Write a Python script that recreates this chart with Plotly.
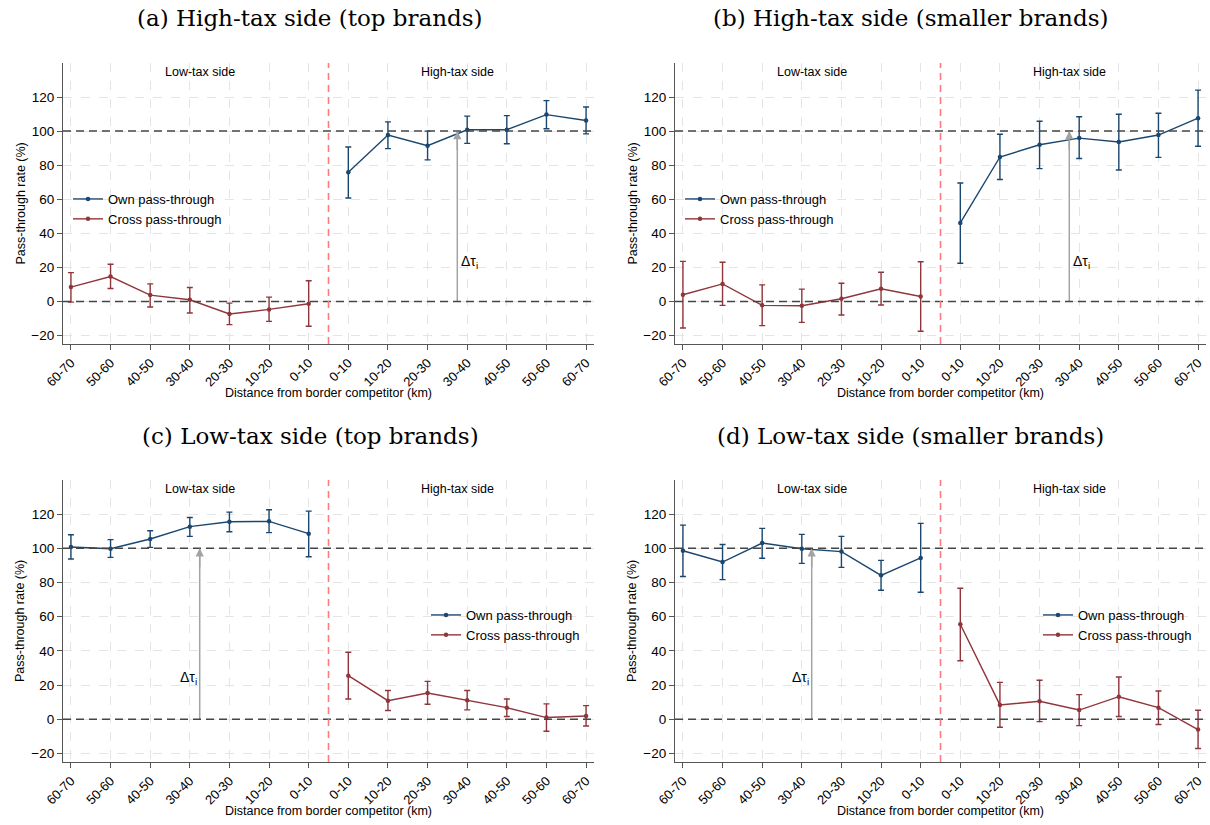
import plotly.graph_objects as go

categories = ["60-70", "50-60", "40-50", "30-40", "20-30", "10-20", "0-10",
              "0-10", "10-20", "20-30", "30-40", "40-50", "50-60", "60-70"]
positions = list(range(1, 15))
low_pos = positions[:7]
high_pos = positions[7:]

# Panel (a) High-tax side (top brands)
a_cross = [8.4, 14.6, 3.7, 1.0, -7.4, -4.7, -1.4]
a_cross_hi = [16.9, 21.8, 10.3, 8.2, -1.0, 2.5, 12.1]
a_cross_lo = [-0.4, 7.6, -3.3, -6.8, -13.6, -11.7, -14.6]
a_own = [75.9, 97.7, 91.4, 100.8, 100.8, 109.7, 106.2]
a_own_hi = [90.7, 105.4, 100.0, 108.8, 109.1, 117.9, 114.2]
a_own_lo = [60.7, 89.7, 83.1, 92.8, 92.6, 101.4, 98.4]

# Panel (b) High-tax side (smaller brands)
b_cross = [3.9, 10.3, -2.3, -2.5, 1.6, 7.4, 2.9]
b_cross_hi = [23.5, 23.0, 9.7, 7.2, 10.7, 17.1, 23.3]
b_cross_lo = [-15.6, -2.3, -14.2, -12.3, -8.0, -2.1, -17.5]
b_own = [46.1, 84.8, 92.0, 95.9, 93.6, 97.7, 107.6]
b_own_hi = [69.5, 98.2, 105.8, 108.4, 109.9, 110.5, 124.1]
b_own_lo = [22.4, 71.6, 78.0, 83.9, 77.2, 84.6, 91.1]

# Panel (c) Low-tax side (top brands)
c_own = [100.8, 99.8, 105.5, 112.7, 115.6, 115.8, 108.6]
c_own_hi = [108.0, 105.1, 110.3, 118.1, 121.2, 122.6, 121.8]
c_own_lo = [93.8, 94.7, 100.6, 107.0, 109.7, 109.2, 95.1]
c_cross = [25.5, 10.9, 15.4, 11.1, 6.8, 1.0, 1.9]
c_cross_hi = [39.2, 16.8, 22.2, 16.8, 11.9, 9.0, 8.0]
c_cross_lo = [11.9, 5.1, 8.8, 5.5, 1.6, -7.0, -3.9]

# Panel (d) Low-tax side (smaller brands)
d_own = [98.6, 92.0, 103.1, 99.8, 98.1, 84.2, 94.4]
d_own_hi = [113.6, 102.3, 111.7, 108.2, 107.0, 93.0, 114.6]
d_own_lo = [83.5, 81.7, 94.2, 91.2, 88.9, 75.5, 74.3]
d_cross = [55.6, 8.4, 10.5, 5.4, 13.2, 6.8, -6.0]
d_cross_hi = [76.7, 21.6, 22.8, 14.4, 24.7, 16.5, 5.3]
d_cross_lo = [34.2, -4.7, -1.4, -3.7, 1.6, -3.1, -17.1]

panel_titles = ["(a) High-tax side (top brands)", "(b) High-tax side (smaller brands)",
                "(c) Low-tax side (top brands)", "(d) Low-tax side (smaller brands)"]
y_ticks = [-20, 0, 20, 40, 60, 80, 100, 120]
side_labels = ["Low-tax side", "High-tax side"]
side_label_x = [4.25, 10.75]
tax_gap = [0, 100]
x_title = "Distance from border competitor (km)"
y_title = "Pass-through rate (%)"

OWN_COLOR = "#1a476f"
CROSS_COLOR = "#90353b"
ARROW_COLOR = "#a3a3a3"
SANS = "Liberation Sans, Arial, sans-serif"
SERIF = "DejaVu Serif, Liberation Serif, serif"

W, H = 1210, 825
# plot areas in pixels: (left, right, top, bottom)
areas = [(63, 594, 63, 344), (675, 1206, 63, 344),
         (63, 594, 480, 762), (675, 1206, 480, 762)]

panels = [
    dict(own_x=high_pos, own=a_own, own_hi=a_own_hi, own_lo=a_own_lo,
         cross_x=low_pos, cross=a_cross, cross_hi=a_cross_hi, cross_lo=a_cross_lo,
         arrow_x=10.75, label_side="right", legend_px=(68, 184)),
    dict(own_x=high_pos, own=b_own, own_hi=b_own_hi, own_lo=b_own_lo,
         cross_x=low_pos, cross=b_cross, cross_hi=b_cross_hi, cross_lo=b_cross_lo,
         arrow_x=10.75, label_side="right", legend_px=(680, 184)),
    dict(own_x=low_pos, own=c_own, own_hi=c_own_hi, own_lo=c_own_lo,
         cross_x=high_pos, cross=c_cross, cross_hi=c_cross_hi, cross_lo=c_cross_lo,
         arrow_x=4.25, label_side="left", legend_px=(426, 600)),
    dict(own_x=low_pos, own=d_own, own_hi=d_own_hi, own_lo=d_own_lo,
         cross_x=high_pos, cross=d_cross, cross_hi=d_cross_hi, cross_lo=d_cross_lo,
         arrow_x=4.25, label_side="left", legend_px=(1038, 600)),
]

fig = go.Figure()
layout = dict(width=W, height=H, margin=dict(l=0, r=0, t=0, b=0),
              paper_bgcolor="white", plot_bgcolor="white",
              font=dict(family=SANS, size=12, color="black"))
annotations = []
shapes = []

for i, (p, area) in enumerate(zip(panels, areas)):
    n = i + 1
    xa = "x" if n == 1 else f"x{n}"
    ya = "y" if n == 1 else f"y{n}"
    xkey = "xaxis" if n == 1 else f"xaxis{n}"
    ykey = "yaxis" if n == 1 else f"yaxis{n}"
    lg = "legend" if n == 1 else f"legend{n}"
    l, r, t, b = area
    layout[xkey] = dict(domain=[l / W, r / W], anchor=ya, range=[0.8, 14.2],
                        tickmode="array", tickvals=positions, ticktext=categories,
                        tickangle=-45, ticks="outside", ticklen=5, tickcolor="#555",
                        showline=True, linecolor="#555", linewidth=1.2,
                        showgrid=True, gridcolor="#e4e4e4", griddash="dash", gridwidth=1,
                        zeroline=False, tickfont=dict(size=13), automargin=False)
    layout[ykey] = dict(domain=[1 - b / H, 1 - t / H], anchor=xa, range=[-25, 140],
                        tickmode="array", tickvals=y_ticks,
                        ticks="outside", ticklen=5, tickcolor="#555",
                        showline=True, linecolor="#555", linewidth=1.2,
                        showgrid=True, gridcolor="#e4e4e4", griddash="dash", gridwidth=1,
                        zeroline=False, tickfont=dict(size=13.5), automargin=False)
    # reference lines
    for yv in (0, 100):
        shapes.append(dict(type="line", xref=xa, yref=ya, x0=0.8, x1=14.2, y0=yv, y1=yv,
                           line=dict(color="#454545", width=1.5, dash="8px,5px"), layer="above"))
    shapes.append(dict(type="line", xref=xa, yref=ya, x0=7.5, x1=7.5, y0=-25, y1=140,
                       line=dict(color="#ff7b7b", width=1.6, dash="7px,5px"), layer="above"))

    # delta tau arrow shaft
    fig.add_trace(go.Scatter(
        x=[p["arrow_x"], p["arrow_x"]], y=tax_gap, mode="lines",
        line=dict(color=ARROW_COLOR, width=1.5),
        showlegend=False, hoverinfo="skip", xaxis=xa, yaxis=ya))
    # arrow head at the top of the shaft
    annotations.append(dict(x=p["arrow_x"], y=tax_gap[1], ax=p["arrow_x"], ay=tax_gap[1] - 12,
                            xref=xa, yref=ya, axref=xa, ayref=ya, text="", showarrow=True,
                            arrowhead=2, arrowsize=1.1, arrowwidth=1.5,
                            arrowcolor=ARROW_COLOR, standoff=0))

    # traces
    fig.add_trace(go.Scatter(
        x=p["own_x"], y=p["own"], mode="lines+markers", name="Own pass-through",
        line=dict(color=OWN_COLOR, width=1.4), marker=dict(color=OWN_COLOR, size=4.5),
        error_y=dict(type="data", symmetric=False,
                     array=[h - v for h, v in zip(p["own_hi"], p["own"])],
                     arrayminus=[v - lo for v, lo in zip(p["own"], p["own_lo"])],
                     color=OWN_COLOR, thickness=1.4, width=3),
        xaxis=xa, yaxis=ya, legend=lg))
    fig.add_trace(go.Scatter(
        x=p["cross_x"], y=p["cross"], mode="lines+markers", name="Cross pass-through",
        line=dict(color=CROSS_COLOR, width=1.4), marker=dict(color=CROSS_COLOR, size=4.5),
        error_y=dict(type="data", symmetric=False,
                     array=[h - v for h, v in zip(p["cross_hi"], p["cross"])],
                     arrayminus=[v - lo for v, lo in zip(p["cross"], p["cross_lo"])],
                     color=CROSS_COLOR, thickness=1.4, width=3),
        xaxis=xa, yaxis=ya, legend=lg))

    lx, ly = p["legend_px"]
    layout[lg] = dict(x=lx / W, y=1 - ly / H, xanchor="left", yanchor="top",
                      bgcolor="rgba(0,0,0,0)", font=dict(size=13, family=SANS),
                      itemwidth=30, tracegroupgap=0)

    # side labels
    for txt, sx in zip(side_labels, side_label_x):
        annotations.append(dict(x=sx, y=135, xref=xa, yref=ya, text=txt, showarrow=False,
                                font=dict(size=12.5), xanchor="center", yanchor="middle"))
    if p["label_side"] == "right":
        annotations.append(dict(x=p["arrow_x"], y=23, xref=xa, yref=ya,
                                text="Δτ<sub>i</sub>", showarrow=False, xanchor="left",
                                xshift=2, font=dict(size=14)))
    else:
        annotations.append(dict(x=p["arrow_x"], y=24, xref=xa, yref=ya,
                                text="Δτ<sub>i</sub>", showarrow=False, xanchor="right",
                                xshift=-1, font=dict(size=14)))

    # axis titles
    annotations.append(dict(x=(l + r) / 2 / W, y=1 - (b + 49) / H, xref="paper", yref="paper",
                            text=x_title, showarrow=False, font=dict(size=12.5),
                            xanchor="center", yanchor="middle"))
    annotations.append(dict(x=(l - 43) / W, y=1 - (t + b) / 2 / H, xref="paper", yref="paper",
                            text=y_title, showarrow=False, textangle=-90, font=dict(size=12.5),
                            xanchor="center", yanchor="middle"))

# panel titles
title_pos = [(310, 18), (910, 18), (310, 436), (910, 436)]
for txt, (tx, ty) in zip(panel_titles, title_pos):
    annotations.append(dict(x=tx / W, y=1 - ty / H, xref="paper", yref="paper", text=txt,
                            showarrow=False, font=dict(family=SERIF, size=23, color="black"),
                            xanchor="center", yanchor="middle"))

layout["annotations"] = annotations
layout["shapes"] = shapes
layout["showlegend"] = True
fig.update_layout(**layout)
fig.write_html("out.html")
